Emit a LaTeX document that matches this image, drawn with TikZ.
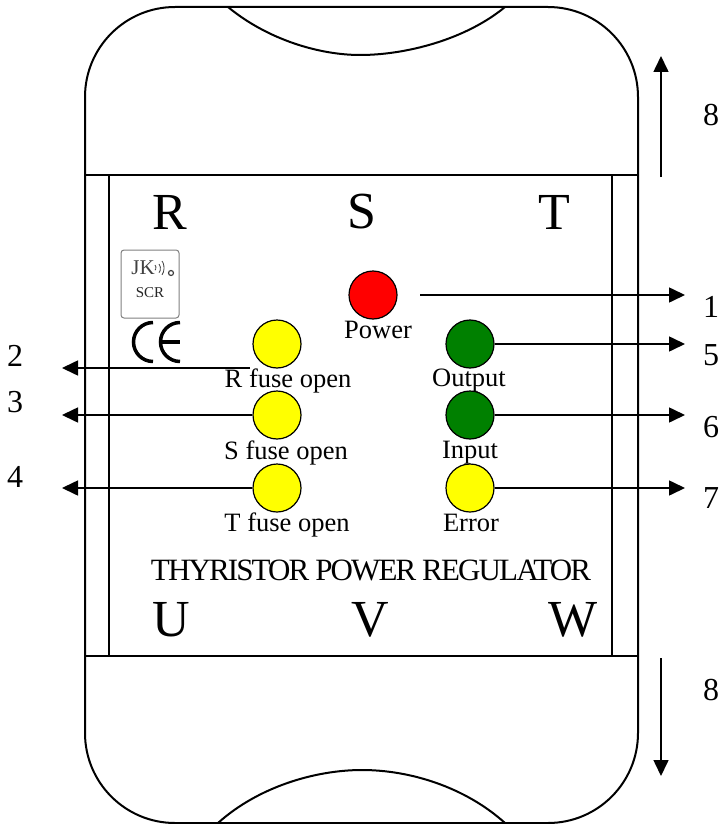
\documentclass[tikz,border=0pt]{standalone}
\usepackage{fontspec}
\setmainfont{Liberation Serif}
\newfontfamily\tightfont[LetterSpace=-6]{Liberation Serif}
\usetikzlibrary{arrows.meta}
\definecolor{ledyellow}{RGB}{255,255,0}
\definecolor{ledred}{RGB}{255,0,0}
\definecolor{ledgreen}{RGB}{0,128,0}

\begin{document}
\begin{tikzpicture}[x=1pt,y=-1pt,
  line width=2pt,
  led/.style={circle,draw,line width=1.2pt,minimum size=48pt,inner sep=0pt},
  ledtext/.style={font=\fontsize{26.5}{26.5}\selectfont,inner sep=0pt},
  phase/.style={font=\fontsize{52}{52}\selectfont,inner sep=0pt},
  num/.style={font=\fontsize{32}{32}\selectfont,inner sep=0pt},
  pointer/.style={-{Triangle[length=16pt,width=15pt]},line width=1.6pt}]
\useasboundingbox (0,0) rectangle (722,824);

% housing
\draw (175,7) -- (548,7) arc (-90:0:90) -- (638,733) arc (0:90:90) -- (175,823) arc (90:180:90) -- (85,97) arc (180:270:90) -- cycle;
\draw (228,7) .. controls (268,40) and (320,55) .. (360,55) .. controls (405,55) and (465,40) .. (505,7);
\draw (218,823) .. controls (258,787) and (315,770) .. (362,770) .. controls (410,770) and (465,787) .. (505,823);
\draw (85,175) -- (638,175);
\draw (85,656) -- (638,656);
\draw (109,175) -- (109,656);
\draw (612,175) -- (612,656);

% phases
\node[phase] (R) at (170,212) {R};
\node[phase] (S) at (362,212) {S};
\node[phase] (T) at (554,212) {T};
\node[phase] (U) at (171,620) {U};
\node[phase] (V) at (370,620) {V};
\node[phase] (W) at (573,620) {W};

% logo
\draw[gray,line width=1pt,rounded corners=3pt] (121,250) rectangle (179,318);
\node[inner sep=0pt,text=black!75,font=\fontsize{21}{21}\selectfont] (JK) at (143,268) {JK};
\node[inner sep=0pt,text=black!85,font=\fontsize{15}{15}\selectfont] (SCR) at (150,293) {SCR};
\draw[black!75,line width=.8pt] (155,265) arc (-60:60:2 and 3);
\draw[black!75,line width=.8pt] (159,264) arc (-60:60:3 and 5);
\draw[black!75,line width=.8pt] (162,261) arc (-60:60:4 and 8);
\draw[black!75,line width=1.2pt] (171,273) circle (2.5);
\draw[line width=3.5pt] (153,322.5) arc (-90:-270:19.5);
\draw[line width=3.5pt] (180,322.5) arc (-90:-270:19.5);
\draw[line width=3.5pt] (161,342) -- (180,342);

% leds
\node[led,fill=ledred] (power) at (373,295) {};
\node[led,fill=ledyellow] (rfuse) at (277,344) {};
\node[led,fill=ledyellow] (sfuse) at (277,415) {};
\node[led,fill=ledyellow] (tfuse) at (277,488) {};
\node[led,fill=ledgreen] (output) at (470,344) {};
\node[led,fill=ledgreen] (input) at (470,415) {};
\node[led,fill=ledyellow] (error) at (470,488) {};

\node[ledtext] (powertext) at (378,330) {Power};
\node[ledtext] (rtext) at (288,381) {R fuse open};
\node[ledtext] (stext) at (286,453) {S fuse open};
\node[ledtext] (ttext) at (287,525) {T fuse open};
\node[ledtext] (outtext) at (469,381) {Output};
\node[ledtext] (intext) at (470,453) {Input};
\node[ledtext] (errtext) at (471,523) {Error};

\node[inner sep=0pt,font=\fontsize{31}{31}\selectfont\tightfont] (title) at (371,570) {THYRISTOR POWER REGULATOR};

% numbers
\node[num] (n1) at (711,307) {1};
\node[num] (n2) at (15,356) {2};
\node[num] (n3) at (15,402) {3};
\node[num] (n4) at (15,477) {4};
\node[num] (n5) at (711,355) {5};
\node[num] (n6) at (711,427) {6};
\node[num] (n7) at (711,498) {7};
\node[num] (n8a) at (711,115) {8};
\node[num] (n8b) at (711,690) {8};

% pointers
\coordinate (p1) at (420,295);
\coordinate (e1) at (685,295);
\coordinate (p2) at (250,368);
\coordinate (e2) at (62,368);
\coordinate (e3) at (62,415);
\coordinate (e4) at (62,488);
\coordinate (e5) at (685,344);
\coordinate (e6) at (685,415);
\coordinate (e7) at (685,488);
\coordinate (a8) at (661,177);
\coordinate (b8) at (661,56);
\coordinate (c8) at (661,658);
\coordinate (d8) at (661,776);

\draw[pointer] (p1) -- (e1);
\draw[pointer] (p2) -- (e2);
\draw[pointer] (sfuse) -- (e3);
\draw[pointer] (tfuse) -- (e4);
\draw[pointer] (output) -- (e5);
\draw[pointer] (input) -- (e6);
\draw[pointer] (error) -- (e7);
\draw[pointer] (a8) -- (b8);
\draw[pointer] (c8) -- (d8);
\end{tikzpicture}
\end{document}
